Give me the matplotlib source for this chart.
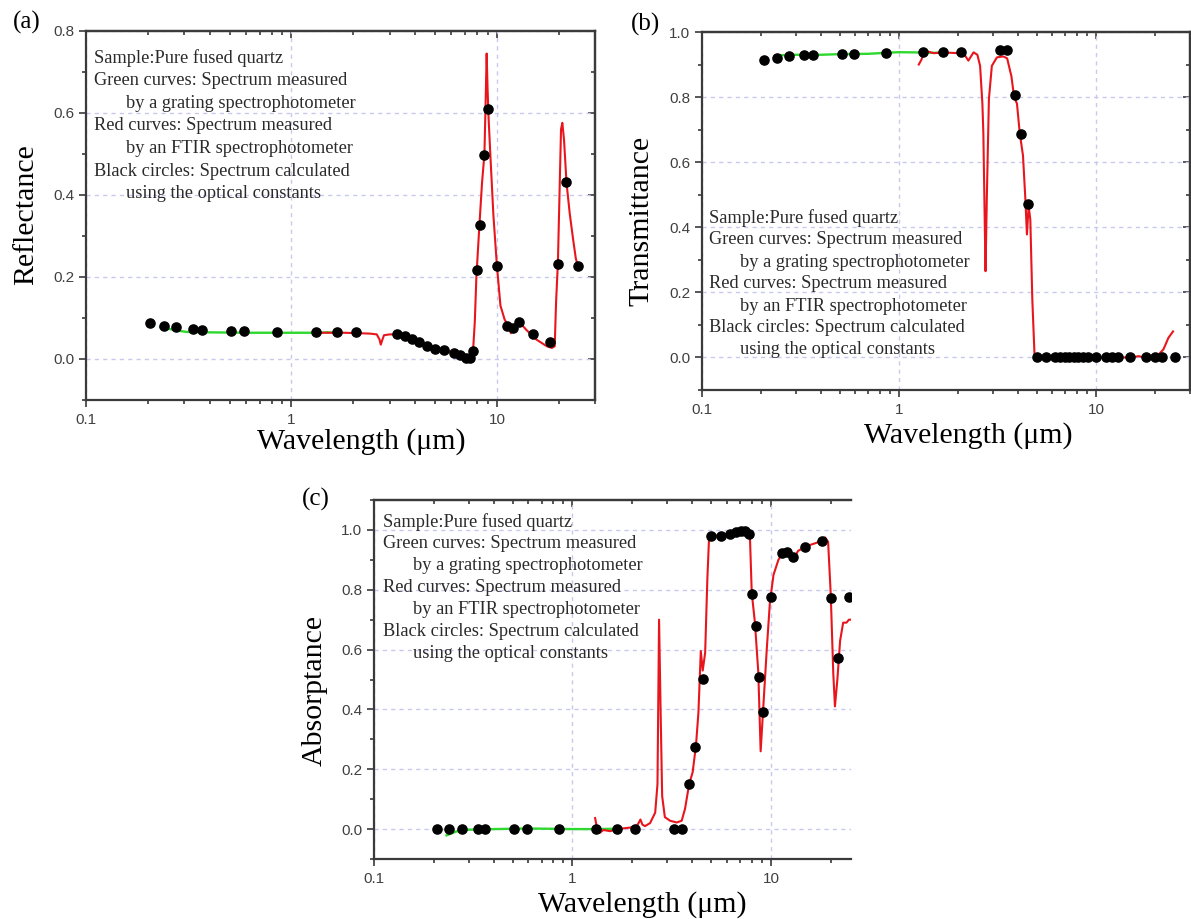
import matplotlib
matplotlib.use("Agg")
import matplotlib.pyplot as plt
from matplotlib.ticker import LogLocator, MultipleLocator, FixedLocator, FixedFormatter, NullFormatter

# ---------------- data ----------------
# (a) Reflectance
refl_calc_wl = [0.206, 0.239, 0.275, 0.331, 0.366, 0.508, 0.588, 0.85, 1.31, 1.67, 2.06,
                3.27, 3.55, 3.85, 4.18, 4.55, 5.0, 5.5, 6.2, 6.6, 7.1, 7.4, 7.65,
                7.97, 8.24, 8.69, 9.06, 10.0, 11.2, 12.0, 12.8, 14.9, 18.1, 19.8, 21.7, 24.8]
refl_calc = [0.087, 0.081, 0.077, 0.072, 0.071, 0.069, 0.068, 0.067, 0.066, 0.066, 0.065,
             0.060, 0.057, 0.048, 0.042, 0.031, 0.025, 0.022, 0.015, 0.010, 0.002, 0.002, 0.020,
             0.218, 0.327, 0.497, 0.610, 0.227, 0.081, 0.075, 0.090, 0.060, 0.041, 0.232, 0.431, 0.226]

refl_grating_wl = [0.23, 0.25, 0.28, 0.31, 0.4, 0.6, 1.0, 1.3, 1.5, 1.65]
refl_grating = [0.077, 0.074, 0.069, 0.066, 0.065, 0.064, 0.064, 0.064, 0.065, 0.064]

refl_ftir_wl = [1.30, 1.35, 1.5, 1.8, 2.1, 2.4, 2.6, 2.68, 2.72, 2.76, 2.82, 3.0, 3.27, 3.55,
                3.85, 4.18, 4.55, 5.0, 5.5, 6.2, 6.6, 7.1, 7.4, 7.55, 7.65, 7.8, 7.94, 8.2,
                8.46, 8.69, 8.81, 8.91, 9.0, 9.1, 9.26, 9.61, 10.0, 10.4, 10.9, 11.3, 11.7,
                12.2, 12.8, 13.9, 15.6, 17.5, 18.5, 19.1, 19.4, 19.8, 20.2, 20.5, 20.8, 21.2,
                21.8, 22.6, 23.5, 24.2, 24.8]
refl_ftir = [0.058, 0.064, 0.064, 0.064, 0.063, 0.062, 0.060, 0.048, 0.035, 0.045, 0.058, 0.060,
             0.060, 0.057, 0.049, 0.042, 0.032, 0.026, 0.022, 0.015, 0.011, 0.004, 0.001, 0.005,
             0.020, 0.090, 0.200, 0.320, 0.430, 0.500, 0.630, 0.745, 0.660, 0.590, 0.510, 0.350,
             0.226, 0.130, 0.096, 0.083, 0.063, 0.075, 0.091, 0.071, 0.047, 0.031, 0.027, 0.031,
             0.140, 0.236, 0.423, 0.560, 0.576, 0.535, 0.430, 0.355, 0.290, 0.245, 0.226]

# (b) Transmittance
trans_calc_wl = [0.207, 0.239, 0.275, 0.330, 0.366, 0.512, 0.592, 0.857, 1.33, 1.67, 2.07,
                 3.25, 3.55, 3.86, 4.18, 4.53, 4.99, 5.57, 6.21, 6.56, 6.93, 7.30, 7.71,
                 8.13, 8.59, 9.06, 9.97, 11.3, 12.0, 13.0, 14.8, 17.9, 20.0, 21.7, 25.2]
trans_calc = [0.913, 0.919, 0.925, 0.929, 0.929, 0.933, 0.933, 0.935, 0.9375, 0.9375, 0.940,
              0.944, 0.944, 0.805, 0.6875, 0.471, 0.0, 0.0, 0.0, 0.0, 0.0, 0.0, 0.0,
              0.0, 0.0, 0.0, 0.0, 0.0, 0.0, 0.0, 0.0, 0.0, 0.0, 0.0, 0.0]

trans_grating_wl = [0.235, 0.3, 0.4, 0.5, 0.7, 0.85, 1.0, 1.3, 1.5, 1.7]
trans_grating = [0.928, 0.930, 0.930, 0.932, 0.933, 0.936, 0.938, 0.937, 0.936, 0.937]

trans_ftir_wl = [1.26, 1.30, 1.35, 1.40, 1.5, 1.7, 2.0, 2.15, 2.25, 2.39, 2.5, 2.58, 2.65,
                 2.68, 2.73, 2.75, 2.79, 2.86, 2.96, 3.14, 3.38, 3.54, 3.72, 3.84, 3.97,
                 4.10, 4.26, 4.38, 4.46, 4.55, 4.64, 4.75, 4.88, 6.0, 10.0, 15.0, 16.5,
                 17.5, 20.0, 20.7, 22.0, 23.3, 24.6]
trans_ftir = [0.900, 0.915, 0.945, 0.940, 0.935, 0.937, 0.935, 0.930, 0.912, 0.9375, 0.930,
              0.896, 0.780, 0.690, 0.380, 0.265, 0.486, 0.794, 0.896, 0.922, 0.925, 0.919,
              0.864, 0.800, 0.780, 0.690, 0.620, 0.486, 0.378, 0.465, 0.424, 0.178, 0.0,
              0.0, 0.0, 0.0, 0.004, 0.0, 0.0, 0.008, 0.025, 0.060, 0.080]

# (c) Absorptance
abs_calc_wl = [0.207, 0.240, 0.276, 0.333, 0.363, 0.508, 0.589, 0.857, 1.32, 1.68, 2.06,
               3.25, 3.56, 3.86, 4.15, 4.53, 5.01, 5.57, 6.25, 6.64, 7.03, 7.40, 7.72,
               7.99, 8.37, 8.73, 9.15, 10.0, 11.4, 12.0, 12.96, 14.8, 18.0, 20.06, 21.8, 24.8]
abs_calc = [0.0, 0.0, 0.0, 0.0, 0.0, 0.0, 0.0, 0.0, 0.0, 0.0, 0.0,
            0.0, 0.0, 0.150, 0.273, 0.502, 0.980, 0.981, 0.988, 0.992, 0.995, 0.998, 0.985,
            0.785, 0.678, 0.508, 0.390, 0.776, 0.922, 0.926, 0.911, 0.943, 0.963, 0.771, 0.573, 0.777]

abs_grating_wl = [0.232, 0.26, 0.3, 0.4, 0.6, 1.0, 1.3, 1.6]
abs_grating = [-0.021, -0.008, -0.002, 0.0, 0.002, 0.0, 0.0, 0.001]

abs_ftir_wl = [1.30, 1.32, 1.37, 1.43, 1.55, 1.67, 1.95, 2.11, 2.2, 2.25, 2.32, 2.46, 2.61,
               2.68, 2.73, 2.78, 2.83, 2.92, 3.10, 3.35, 3.55, 3.69, 3.87, 4.03, 4.19, 4.31,
               4.43, 4.53, 4.66, 4.78, 4.88, 5.5, 6.3, 7.0, 7.5, 7.7, 7.84, 8.0, 8.3, 8.63,
               8.87, 9.15, 9.52, 9.88, 10.3, 10.9, 11.5, 12.5, 13.0, 13.7, 15.1, 17.0, 18.7,
               19.4, 20.0, 20.6, 21.0, 21.6, 22.3, 23.1, 24.0, 24.7, 25.3]
abs_ftir = [0.037, 0.014, -0.013, -0.003, -0.007, 0.0, 0.005, 0.010, 0.032, 0.015, 0.010,
            0.020, 0.055, 0.150, 0.700, 0.390, 0.110, 0.040, 0.028, 0.022, 0.028, 0.068,
            0.150, 0.190, 0.280, 0.390, 0.595, 0.530, 0.590, 0.836, 0.980, 0.982, 0.990,
            0.996, 0.997, 0.990, 0.970, 0.790, 0.690, 0.525, 0.260, 0.410, 0.600, 0.760,
            0.850, 0.900, 0.925, 0.918, 0.904, 0.930, 0.946, 0.957, 0.975, 0.960, 0.785,
            0.520, 0.410, 0.500, 0.630, 0.690, 0.690, 0.700, 0.700]

x_tick_values = [0.1, 1, 10]
x_tick_labels = ["0.1", "1", "10"]

note_lines = [
    ("Sample:Pure fused quartz", False),
    ("Green curves: Spectrum measured", False),
    ("by a grating spectrophotometer", True),
    ("Red curves: Spectrum measured", False),
    ("by an FTIR spectrophotometer", True),
    ("Black circles: Spectrum calculated", False),
    ("using the optical constants", True),
]

# ---------------- styling ----------------
W, H = 1191, 919
SERIF = ["Liberation Serif", "DejaVu Serif"]
SANS = ["Liberation Sans", "DejaVu Sans"]
AX_COLOR = "#3a3a3a"
GRID_COLOR = "#c9c9ef"
GREEN = "#2ed82e"
RED = "#e8161c"

fig = plt.figure(figsize=(W / 100, H / 100), dpi=100)


def px_box(left, top, right, bottom):
    return [left / W, 1 - bottom / H, (right - left) / W, (bottom - top) / H]


def px(x, y):
    return x / W, 1 - y / H


def make_panel(box, xlim, ylim, ymajor, show_right=True):
    ax = fig.add_axes(px_box(*box))
    ax.set_xscale("log")
    ax.set_xlim(*xlim)
    ax.set_ylim(*ylim)
    ax.xaxis.set_major_locator(FixedLocator(x_tick_values))
    ax.xaxis.set_major_formatter(FixedFormatter(x_tick_labels))
    ax.xaxis.set_minor_locator(LogLocator(base=10, subs=range(2, 10), numticks=20))
    ax.xaxis.set_minor_formatter(NullFormatter())
    ax.yaxis.set_major_locator(MultipleLocator(ymajor))
    ax.yaxis.set_minor_locator(MultipleLocator(ymajor / 2))
    ax.yaxis.set_major_formatter(plt.FuncFormatter(lambda v, p: f"{v:.1f}"))
    ax.tick_params(which="both", direction="out", color=AX_COLOR, labelcolor="#404040",
                   labelsize=11, width=1.2)
    ax.tick_params(which="major", length=5)
    ax.tick_params(which="minor", length=3)
    ax.tick_params(axis="x", which="major", pad=4.5)
    for lab in ax.get_xticklabels() + ax.get_yticklabels():
        lab.set_family(SANS)
    for sp in ax.spines.values():
        sp.set_color(AX_COLOR)
        sp.set_linewidth(1.6)
    ax.spines["right"].set_visible(show_right)
    ax.grid(True, which="major", color=GRID_COLOR, linestyle=(0, (3, 3)), linewidth=1.0)
    ax.set_axisbelow(True)

    top = ax.secondary_xaxis("top")
    top.xaxis.set_major_locator(FixedLocator(x_tick_values))
    top.xaxis.set_minor_locator(LogLocator(base=10, subs=range(2, 10), numticks=20))
    top.tick_params(which="both", direction="in", labeltop=False, color=AX_COLOR, width=1.2)
    top.tick_params(which="major", length=5)
    top.tick_params(which="minor", length=3)
    top.spines["top"].set_color(AX_COLOR)
    top.spines["top"].set_linewidth(1.6)
    if show_right:
        right = ax.secondary_yaxis("right")
        right.yaxis.set_major_locator(MultipleLocator(ymajor))
        right.yaxis.set_minor_locator(MultipleLocator(ymajor / 2))
        right.tick_params(which="both", direction="in", labelright=False, color=AX_COLOR, width=1.2)
        right.tick_params(which="major", length=5)
        right.tick_params(which="minor", length=3)
        right.spines["right"].set_color(AX_COLOR)
        right.spines["right"].set_linewidth(1.6)
    return ax


def draw_series(ax, g_wl, g, r_wl, r, c_wl, c):
    ax.plot(g_wl, g, color=GREEN, lw=1.7, zorder=3)
    ax.plot(r_wl, r, color=RED, lw=1.5, zorder=4)
    ax.plot(c_wl, c, linestyle="none", marker="o", markersize=6.6, color="black", zorder=5)


def draw_notes(x0, indent, y0, dy):
    for i, (line, ind) in enumerate(note_lines):
        fx, fy = px(x0 + (indent if ind else 0), y0 + i * dy)
        fig.text(fx, fy, line, family=SERIF, fontsize=13.2, color="#2a2a2a",
                 ha="left", va="center")


LABEL_SIZE = 21.5


def wavelength_label(x, y_top):
    fig.text(*px(x, y_top), "Wavelength (\u03bcm)", family=SERIF, fontsize=LABEL_SIZE,
             ha="center", va="top")


# (a)
ax_a = make_panel((86, 31, 595, 400), (0.1, 30), (-0.1, 0.8), 0.2)
draw_series(ax_a, refl_grating_wl, refl_grating, refl_ftir_wl, refl_ftir, refl_calc_wl, refl_calc)
draw_notes(94, 32, 58, 22.6)
fig.text(*px(27, 22), "(a)", family=SERIF, fontsize=18, ha="center", va="center")
fig.text(*px(26, 215), "Reflectance", family=SERIF, fontsize=LABEL_SIZE, rotation=90,
         ha="center", va="center")
wavelength_label(361, 428)

# (b)
ax_b = make_panel((702, 32, 1190, 390), (0.1, 30), (-0.1, 1.0), 0.2)
draw_series(ax_b, trans_grating_wl, trans_grating, trans_ftir_wl, trans_ftir, trans_calc_wl, trans_calc)
draw_notes(709, 31, 218, 22)
fig.text(*px(646, 24), "(b)", family=SERIF, fontsize=18, ha="center", va="center")
fig.text(*px(641, 221), "Transmittance", family=SERIF, fontsize=LABEL_SIZE, rotation=90,
         ha="center", va="center")
wavelength_label(968, 422)

# (c)
ax_c = make_panel((374, 500, 851, 859), (0.1, 25.3), (-0.1, 1.1), 0.2, show_right=False)
draw_series(ax_c, abs_grating_wl, abs_grating, abs_ftir_wl, abs_ftir, abs_calc_wl, abs_calc)
draw_notes(383, 30, 522, 22)
fig.text(*px(316, 499), "(c)", family=SERIF, fontsize=18, ha="center", va="center")
fig.text(*px(315, 690), "Absorptance", family=SERIF, fontsize=LABEL_SIZE, rotation=90,
         ha="center", va="center")
wavelength_label(642, 891)

fig.savefig("out.png", dpi=100, facecolor="white")
